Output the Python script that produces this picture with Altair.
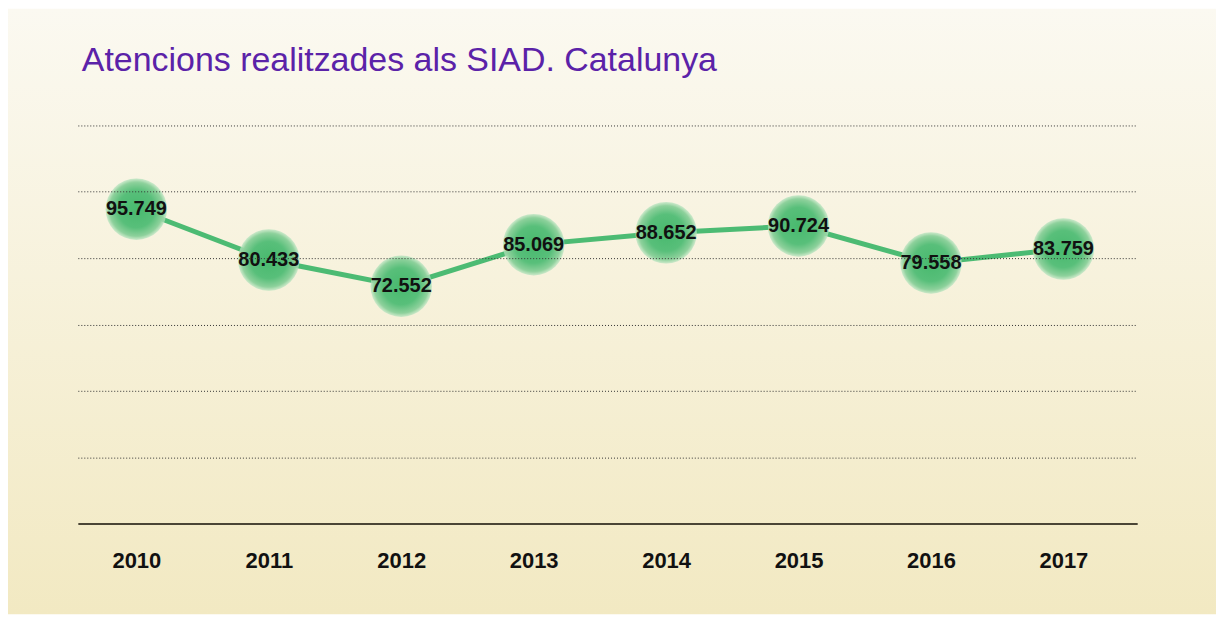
import altair as alt
import pandas as pd

years = [2010, 2011, 2012, 2013, 2014, 2015, 2016, 2017]
attentions = [95749, 80433, 72552, 85069, 88652, 90724, 79558, 83759]
grid_values = [21000, 41000, 61000, 81000, 101000, 121000]
title_text = "Atencions realitzades als SIAD. Catalunya"

df = pd.DataFrame({"year": years, "value": attentions})

W, H = 1062, 399
PL, PT, PR, PB = 70, 117, 79, 91

FONT = "Liberation Sans, Arial, sans-serif"

x_enc = alt.X(
    "year:Q",
    scale=alt.Scale(domain=[2009.558, 2017.557], nice=False, zero=False),
    axis=alt.Axis(
        title=None, values=years, format="d", labelAngle=0, labelFont=FONT,
        labelFontWeight="bold", labelFontSize=22, labelColor="#111111",
        labelPadding=27, labelFlush=False, ticks=False,
        domain=True, domainColor="#4a4536", domainWidth=2, grid=False, zindex=1,
    ),
)
y_enc = alt.Y(
    "value:Q",
    scale=alt.Scale(domain=[1000, 121000], nice=False, zero=False),
    axis=alt.Axis(
        title=None, labels=False, ticks=False, domain=False, grid=True,
        values=grid_values, gridColor="#333333", gridDash=[1, 2], gridWidth=1, zindex=1,
    ),
)

bg = alt.Chart(pd.DataFrame({"k": [0]})).mark_rect(
    fill=alt.LinearGradient(
        gradient="linear", x1=0, y1=0, x2=0, y2=1,
        stops=[alt.GradientStop(offset=0, color="#fbf9f1"),
               alt.GradientStop(offset=1, color="#f2e9c2")],
    )
).encode(
    x=alt.value(-PL), x2=alt.value(W + PR), y=alt.value(-PT), y2=alt.value(H + PB)
)

base = alt.Chart(df).encode(x=x_enc, y=y_enc)

line = base.mark_line(color="#4cbb73", strokeWidth=5)

circles = base.mark_circle(
    size=3800, opacity=1,
    fill=alt.RadialGradient(
        gradient="radial", x1=0.5, y1=0.5, r1=0, x2=0.5, y2=0.5, r2=0.5,
        stops=[alt.GradientStop(offset=0, color="#48b96e"),
               alt.GradientStop(offset=0.6, color="#58bf7a"),
               alt.GradientStop(offset=0.88, color="#8ed19c"),
               alt.GradientStop(offset=1, color="rgba(185,228,192,0.7)")],
    ),
)

labels = base.transform_calculate(
    lbl="format(datum.value / 1000, '.3f')"
).mark_text(
    font=FONT, fontWeight="bold", fontSize=20, color="#111111",
    baseline="middle", align="center",
).encode(text="lbl:N")

chart = alt.layer(bg, line, circles, labels).properties(
    width=W, height=H,
    padding={"left": PL, "top": PT, "right": PR, "bottom": PB},
    autosize=alt.AutoSizeParams(type="none"),
    background="white",
    title=alt.TitleParams(
        text=title_text, anchor="start", frame="group", font=FONT, fontSize=34,
        fontWeight="normal", color="#5b22a8", baseline="alphabetic",
        offset=-96, dx=4,
    ),
).configure_view(stroke=None)

chart.save("out.html", embed_options={"renderer": "svg", "actions": False})
